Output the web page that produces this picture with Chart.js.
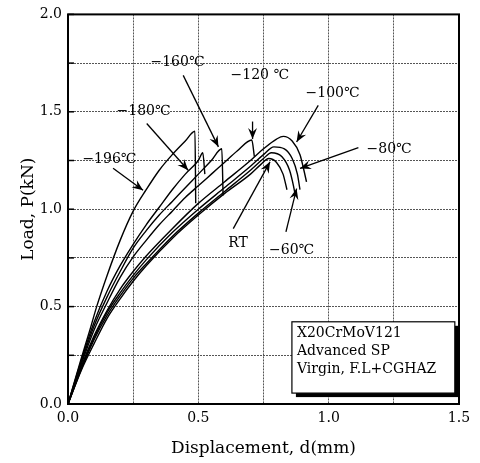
<!DOCTYPE html>
<html><head><meta charset="utf-8">
<script src="https://cdn.jsdelivr.net/npm/chart.js@4/dist/chart.umd.min.js"></script>
<style>html,body{margin:0;padding:0;background:#fff}</style>
</head><body>
<canvas id="c" width="480" height="463"></canvas>
<script>
// ---- data (displacement in mm, load in kN) ----
const dispM196 = [0,0.05,0.084,0.11,0.15,0.2,0.25,0.3,0.35,0.4,0.45,0.487,0.49];
const loadM196 = [0,0.23,0.38,0.5,0.66,0.84,0.99,1.1,1.2,1.28,1.35,1.40,1.03];
const dispM180 = [0,0.05,0.1,0.15,0.2,0.25,0.3,0.35,0.4,0.45,0.5,0.517,0.525];
const loadM180 = [0,0.22,0.42,0.58,0.71,0.82,0.92,1.01,1.10,1.18,1.25,1.29,1.18];
const dispM160 = [0,0.05,0.1,0.15,0.2,0.25,0.3,0.35,0.4,0.45,0.5,0.55,0.59,0.595];
const loadM160 = [0,0.21,0.4,0.55,0.68,0.80,0.89,0.97,1.04,1.11,1.18,1.25,1.31,1.07];
const dispM120 = [0,0.05,0.1,0.15,0.2,0.25,0.3,0.35,0.4,0.45,0.5,0.55,0.6,0.65,0.705,0.715];
const loadM120 = [0,0.2,0.38,0.52,0.65,0.755,0.84,0.92,0.99,1.06,1.12,1.18,1.24,1.30,1.355,1.27];
const dispM100 = [0,0.05,0.1,0.15,0.2,0.25,0.3,0.4,0.5,0.6,0.7,0.75,0.8,0.826,0.86,0.89,0.905,0.915];
const loadM100 = [0,0.19,0.35,0.48,0.59,0.68,0.76,0.90,1.03,1.14,1.25,1.31,1.36,1.374,1.35,1.28,1.20,1.14];
const dispM80 = [0,0.05,0.1,0.15,0.2,0.25,0.3,0.4,0.5,0.6,0.7,0.75,0.79,0.83,0.86,0.88,0.89];
const loadM80 = [0,0.18,0.34,0.47,0.57,0.66,0.74,0.88,1.00,1.11,1.22,1.28,1.32,1.31,1.26,1.18,1.10];
const dispM60 = [0,0.05,0.1,0.15,0.2,0.25,0.3,0.4,0.5,0.6,0.7,0.75,0.78,0.82,0.85,0.865,0.872];
const loadM60 = [0,0.175,0.33,0.455,0.555,0.645,0.72,0.86,0.98,1.09,1.20,1.26,1.29,1.27,1.20,1.12,1.07];
const dispRT = [0,0.05,0.1,0.15,0.2,0.25,0.3,0.4,0.5,0.6,0.7,0.74,0.77,0.80,0.825,0.84];
const loadRT = [0,0.17,0.31,0.44,0.54,0.63,0.71,0.85,0.97,1.08,1.18,1.23,1.26,1.24,1.18,1.10];

const seriesNames = ['−196℃','−180℃','−160℃','−120℃','−100℃','−80℃','−60℃','RT'];
const seriesX = [dispM196,dispM180,dispM160,dispM120,dispM100,dispM80,dispM60,dispRT];
const seriesY = [loadM196,loadM180,loadM160,loadM120,loadM100,loadM80,loadM60,loadRT];

// ---- annotation labels (data coordinates) ----
const labelTexts = ['−196℃','−180℃','−160℃','−120 ℃','−100℃','−80℃','RT','−60℃'];
const labelX = [0.159,0.29,0.42,0.736,1.015,1.232,0.652,0.858];
const labelY = [1.256,1.50,1.755,1.687,1.593,1.306,0.824,0.79];
const arrowFromX = [0.173,0.302,0.442,0.708,0.96,1.114,0.634,0.836];
const arrowFromY = [1.21,1.44,1.687,1.45,1.533,1.316,0.90,0.884];
const arrowToX = [0.288,0.461,0.577,0.708,0.877,0.89,0.775,0.877];
const arrowToY = [1.097,1.20,1.32,1.36,1.345,1.209,1.243,1.106];

const boxLines = ['X20CrMoV121','Advanced SP','Virgin, F.L+CGHAZ'];
const boxX = [0.859,1.484];
const boxY = [0.422,0.056];

const xTitle = 'Displacement, d(mm)';
const yTitle = 'Load, P(kN)';

const FONT = "'DejaVu Serif', 'Liberation Serif', serif";

const datasets = seriesNames.map((n,i)=>({
  label:n,
  data: seriesX[i].map((x,j)=>({x:x,y:seriesY[i][j]})),
  showLine:true, pointRadius:0, borderColor:'#000', borderWidth:1.4,
  cubicInterpolationMode:'monotone', fill:false
}));

const annot = {
  id:'annot',
  afterDatasetsDraw(chart){
    const ctx = chart.ctx, xs = chart.scales.x, ys = chart.scales.y, ca = chart.chartArea;
    ctx.save();
    // frame
    ctx.strokeStyle='#000'; ctx.lineWidth=2;
    ctx.strokeRect(ca.left, ca.top, ca.right-ca.left, ca.bottom-ca.top);
    // inner ticks on left axis
    ctx.lineWidth=1.5;
    ys.ticks.forEach(t=>{
      const py = ys.getPixelForValue(t.value);
      ctx.beginPath(); ctx.moveTo(ca.left, py); ctx.lineTo(ca.left+6, py); ctx.stroke();
    });
    // labels
    ctx.fillStyle='#000';
    ctx.font = "14px "+FONT;
    ctx.textAlign='center'; ctx.textBaseline='middle';
    labelTexts.forEach((t,i)=>{
      ctx.fillText(t, xs.getPixelForValue(labelX[i]), ys.getPixelForValue(labelY[i]));
    });
    // arrows
    ctx.lineWidth=1.3;
    for(let i=0;i<arrowFromX.length;i++){
      const x1=xs.getPixelForValue(arrowFromX[i]), y1=ys.getPixelForValue(arrowFromY[i]);
      const x2=xs.getPixelForValue(arrowToX[i]), y2=ys.getPixelForValue(arrowToY[i]);
      ctx.beginPath(); ctx.moveTo(x1,y1); ctx.lineTo(x2,y2); ctx.stroke();
      const a=Math.atan2(y2-y1,x2-x1), L=11, W=4.5;
      const bx=x2-L*Math.cos(a), by=y2-L*Math.sin(a);
      const mx=x2-0.65*L*Math.cos(a), my=y2-0.65*L*Math.sin(a);
      ctx.beginPath();
      ctx.moveTo(x2,y2);
      ctx.lineTo(bx+W*Math.sin(a), by-W*Math.cos(a));
      ctx.lineTo(mx,my);
      ctx.lineTo(bx-W*Math.sin(a), by+W*Math.cos(a));
      ctx.closePath(); ctx.fill();
    }
    // info box with shadow
    const bl=xs.getPixelForValue(boxX[0]), br=xs.getPixelForValue(boxX[1]);
    const bt=ys.getPixelForValue(boxY[0]), bb=ys.getPixelForValue(boxY[1]);
    ctx.fillStyle='#000';
    ctx.fillRect(bl+4, bt+4, br-bl, bb-bt);
    ctx.fillStyle='#fff';
    ctx.fillRect(bl, bt, br-bl, bb-bt);
    ctx.lineWidth=1.2; ctx.strokeStyle='#000';
    ctx.strokeRect(bl, bt, br-bl, bb-bt);
    ctx.fillStyle='#000'; ctx.textAlign='left'; ctx.font="14px "+FONT;
    boxLines.forEach((t,i)=>{ ctx.fillText(t, bl+5, bt+12+i*18); });
    ctx.restore();
  }
};

function tickLab(v){ return Math.abs(v*2-Math.round(v*2))<1e-6 ? v.toFixed(1) : ''; }

new Chart(document.getElementById('c'), {
  type:'scatter',
  data:{datasets},
  options:{
    responsive:false, animation:false, devicePixelRatio:1,
    layout:{padding:{top:14,right:21,left:0,bottom:0}},
    plugins:{legend:{display:false}, tooltip:{enabled:false}},
    scales:{
      x:{type:'linear', min:0, max:1.5,
        afterFit(s){ s.height=59; },
        ticks:{stepSize:0.25, autoSkip:false, callback:tickLab, color:'#000', padding:6, maxRotation:0, font:{family:FONT,size:14}},
        grid:{color:'#555', lineWidth:1, drawTicks:false},
        border:{display:false, dash:[2,1]},
        title:{display:true, text:xTitle, color:'#000', font:{family:FONT,size:17}, padding:{top:0,bottom:4}}
      },
      y:{type:'linear', min:0, max:2.0,
        afterFit(s){ s.width=68; },
        ticks:{stepSize:0.25, autoSkip:false, callback:tickLab, color:'#000', padding:6, font:{family:FONT,size:14}},
        grid:{color:'#555', lineWidth:1, drawTicks:false},
        border:{display:false, dash:[2,1]},
        title:{display:true, text:yTitle, color:'#000', font:{family:FONT,size:17}, padding:{top:18,bottom:0}}
      }
    }
  },
  plugins:[annot]
});
</script>
</body></html>
